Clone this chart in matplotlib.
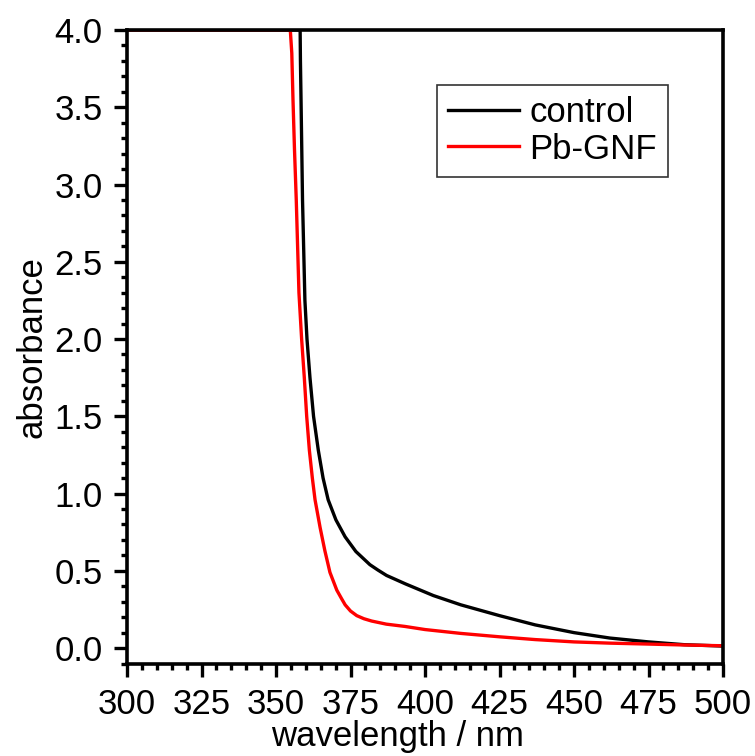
import matplotlib
matplotlib.use("Agg")
import matplotlib.pyplot as plt
from matplotlib.ticker import MultipleLocator, FormatStrFormatter

# data
control_wl = [300, 358.1, 358.2, 358.4, 358.9, 359.7, 360.4, 361.4, 362.6, 364.2, 365.8,
              367.5, 370.1, 373.2, 376.8, 381.5, 384.2, 387.1, 393.5, 402.8, 412,
              425, 437, 450, 462, 475, 487, 500]
control_abs = [4.0, 4.0, 3.8, 3.55, 2.9, 2.25, 2.0, 1.75, 1.5, 1.28, 1.1,
               0.96, 0.83, 0.72, 0.625, 0.54, 0.505, 0.47, 0.415, 0.34, 0.28,
               0.21, 0.15, 0.10, 0.065, 0.04, 0.022, 0.013]

pbgnf_wl = [300, 354.8, 355.3, 355.7, 356.2, 356.8, 357.7, 358.6, 359.5, 360.3, 361.2,
            362.2, 363.1, 364.8, 366.4, 368.1, 370.4, 372.0, 373.2, 375.0, 377.1,
            379.5, 382.1, 387.0, 393.3, 400, 412, 425, 437, 450, 462, 475, 487, 500]
pbgnf_abs = [4.0, 4.0, 3.85, 3.55, 3.23, 2.9, 2.3, 2.0, 1.75, 1.5, 1.28,
             1.1, 0.96, 0.78, 0.63, 0.49, 0.375, 0.32, 0.28, 0.24, 0.21,
             0.19, 0.175, 0.155, 0.14, 0.12, 0.095, 0.073, 0.055, 0.04, 0.032,
             0.026, 0.02, 0.015]

series_labels = ["control", "Pb-GNF"]

plt.rcParams['font.family'] = ['Liberation Sans', 'DejaVu Sans']

fig = plt.figure(figsize=(7.55, 7.56), dpi=100)
ax = fig.add_axes([127/755, 1-664/756, (723-127)/755, (664-30)/756])

ax.plot(control_wl, control_abs, color='black', lw=2.4, label=series_labels[0])
ax.plot(pbgnf_wl, pbgnf_abs, color='#ff0000', lw=2.4, label=series_labels[1])

ax.set_xlim(300, 500)
ax.set_ylim(-0.103, 4.0)
ax.xaxis.set_major_locator(MultipleLocator(25))
ax.xaxis.set_minor_locator(MultipleLocator(5))
ax.yaxis.set_major_locator(MultipleLocator(0.5))
ax.yaxis.set_minor_locator(MultipleLocator(0.1))
ax.yaxis.set_major_formatter(FormatStrFormatter('%.1f'))
ax.set_yticks([i * 0.5 for i in range(9)])

for s in ax.spines.values():
    s.set_linewidth(2.6)

ax.tick_params(axis='both', which='major', direction='out', length=9.5, width=2.4,
               labelsize=25, pad=8)
ax.tick_params(axis='both', which='minor', direction='out', length=4.5, width=2.4)
ax.tick_params(top=False, right=False, which='both')

ax.set_xlabel('wavelength / nm', fontsize=25)
ax.xaxis.set_label_coords((397-127)/595, -(746-664)/634, transform=ax.transAxes)
ax.xaxis.label.set_va('baseline')
ax.set_ylabel('absorbance', fontsize=25, labelpad=4)

leg = ax.legend(loc='upper right', bbox_to_anchor=((668-127)/596, (664-85)/634),
                borderaxespad=0, fontsize=25, frameon=True, fancybox=False,
                handlelength=2.05, handletextpad=0.3, borderpad=0.32, labelspacing=0.1)
leg.get_frame().set_edgecolor('black')
leg.get_frame().set_linewidth(1.2)
for line in leg.get_lines():
    line.set_linewidth(2.4)

fig.savefig('out.png', dpi=100)
